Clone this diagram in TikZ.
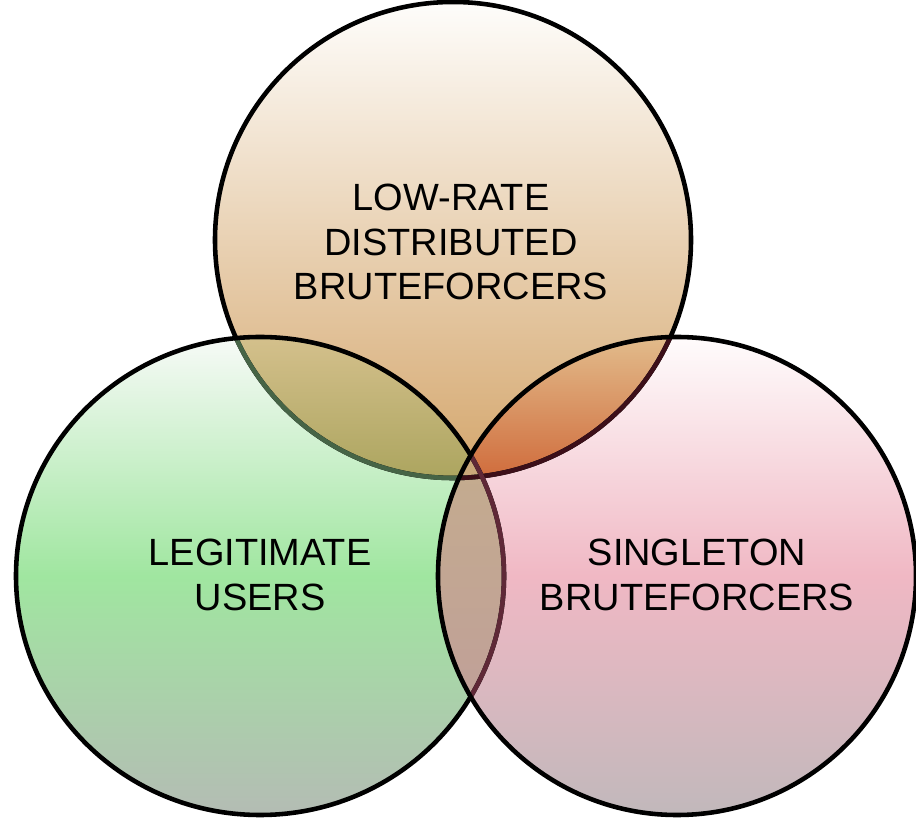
\documentclass[tikz,border=0pt]{standalone}
\usepackage{fontspec}
\setmainfont{Liberation Sans}
\definecolor{topwhite}{RGB}{254,253,251}
\definecolor{toptan}{RGB}{212,166,108}
\definecolor{leftwhite}{RGB}{247,250,247}
\definecolor{leftgreen}{RGB}{160,230,160}
\definecolor{leftgray}{RGB}{180,188,180}
\definecolor{rightwhite}{RGB}{255,252,252}
\definecolor{rightpink}{RGB}{240,184,196}
\definecolor{rightgray}{RGB}{193,184,187}
\definecolor{oliveA}{RGB}{212,192,140}
\definecolor{oliveB}{RGB}{172,165,95}
\definecolor{orangeA}{RGB}{226,188,140}
\definecolor{orangeB}{RGB}{208,108,60}
\definecolor{lensA}{RGB}{196,172,142}
\definecolor{lensB}{RGB}{192,160,152}
\definecolor{middletan}{RGB}{202,168,122}
\definecolor{edgegreen}{RGB}{70,100,70}
\definecolor{edgered}{RGB}{60,15,25}
\definecolor{edgemaroon}{RGB}{95,40,55}
\tikzset{
  rim/.style={line width=2.6pt},
  setlabel/.style={align=center, font=\fontsize{21.6}{25.5}\selectfont}
}
\begin{document}
\begin{tikzpicture}[x=0.02cm, y=0.02cm]
  \useasboundingbox (0,0) rectangle (916,818);
  \coordinate (ctop) at (453,578);
  \coordinate (cleft) at (260,242);
  \coordinate (cright) at (677,242);
  % the three sets
  \shade[top color=topwhite, bottom color=toptan] (ctop) circle [radius=238];
  \shade[top color=leftwhite, bottom color=leftgray, middle color=leftgreen] (cleft) ellipse [x radius=244, y radius=239];
  \shade[top color=rightwhite, bottom color=rightgray, middle color=rightpink] (cright) circle [radius=239];
  % overlaps
  \begin{scope}
    \clip (ctop) circle [radius=238];
    \clip (cleft) ellipse [x radius=244, y radius=239];
    \shade[top color=oliveA, bottom color=oliveB] (10,481) rectangle (520,340);
  \end{scope}
  \begin{scope}
    \clip (ctop) circle [radius=238];
    \clip (cright) circle [radius=239];
    \shade[top color=orangeA, bottom color=orangeB] (430,482) rectangle (916,340);
  \end{scope}
  \begin{scope}
    \clip (cleft) ellipse [x radius=244, y radius=239];
    \clip (cright) circle [radius=239];
    \shade[top color=lensA, bottom color=lensB] (430,365) rectangle (510,118);
  \end{scope}
  \begin{scope}
    \clip (ctop) circle [radius=238];
    \clip (cleft) ellipse [x radius=244, y radius=239];
    \clip (cright) circle [radius=239];
    \fill[middletan] (430,365) rectangle (510,340);
  \end{scope}
  % outlines, top one seen through the others
  \draw[rim] (ctop) circle [radius=238];
  \begin{scope}
    \clip (cleft) ellipse [x radius=244, y radius=239];
    \draw[rim, edgegreen] (ctop) circle [radius=238];
  \end{scope}
  \begin{scope}
    \clip (cright) circle [radius=239];
    \draw[rim, edgered] (ctop) circle [radius=238];
  \end{scope}
  \draw[rim] (cleft) ellipse [x radius=244, y radius=239];
  \begin{scope}
    \clip (cright) circle [radius=239];
    \draw[rim, edgemaroon] (cleft) ellipse [x radius=244, y radius=239];
  \end{scope}
  \draw[rim] (cright) circle [radius=239];
  % labels
  \node[setlabel] (lowrate) at (451,576) {LOW-RATE\\DISTRIBUTED\\BRUTEFORCERS};
  \node[setlabel] (legit) at (260,243) {LEGITIMATE\\USERS};
  \node[setlabel] (singleton) at (697,243) {SINGLETON\\BRUTEFORCERS};
\end{tikzpicture}
\end{document}
